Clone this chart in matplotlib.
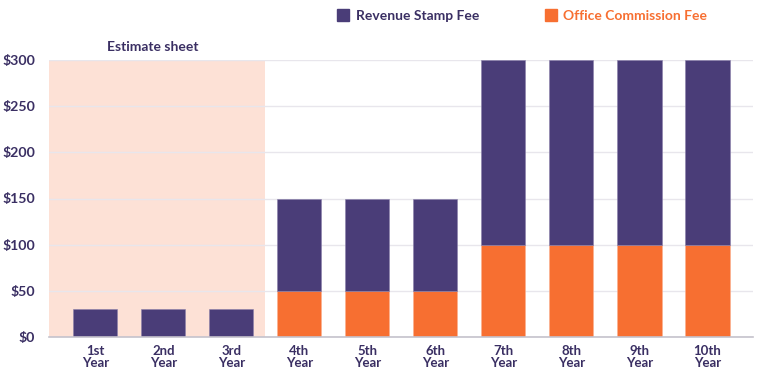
import matplotlib
matplotlib.use("Agg")
import matplotlib.pyplot as plt
from matplotlib.patches import Rectangle

categories = ["1st\nYear", "2nd\nYear", "3rd\nYear", "4th\nYear", "5th\nYear",
              "6th\nYear", "7th\nYear", "8th\nYear", "9th\nYear", "10th\nYear"]
office_fee = [0, 0, 0, 50, 50, 50, 100, 100, 100, 100]
revenue_fee = [30, 30, 30, 100, 100, 100, 200, 200, 200, 200]
y_ticks = [0, 50, 100, 150, 200, 250, 300]
y_labels = ["$0", "$50", "$100", "$150", "$200", "$250", "$300"]

PURPLE = "#4a3d78"
ORANGE = "#f76f31"
SHADE = "#fde1d6"
TEXT = "#3a2f63"

plt.rcParams['font.family'] = ['Lato', 'DejaVu Sans']

fig = plt.figure(figsize=(7.68, 3.79), dpi=100)
ax = fig.add_axes([49/768, 1-337/379, (753-49)/768, (337-60)/379])

x = list(range(len(categories)))
ax.axvspan(-0.68, 2.5, color=SHADE, zorder=0, lw=0)
ax.bar(x, office_fee, width=0.65, color=ORANGE, zorder=3, edgecolor="#fbb08f", linewidth=0.4)
ax.bar(x, revenue_fee, bottom=office_fee, width=0.65, color=PURPLE, zorder=3,
       edgecolor="#8a80aa", linewidth=0.4)

ax.set_xlim(-0.68, 9.67)
ax.set_ylim(0, 300)
ax.set_yticks(y_ticks)
ax.set_yticklabels(y_labels)
ax.set_xticks(x)
ax.set_xticklabels(categories, linespacing=0.95)
ax.grid(axis='y', color="#e8e6ec", linewidth=1, zorder=1)
ax.set_axisbelow(True)
for s in ["top", "right", "left"]:
    ax.spines[s].set_visible(False)
ax.spines["bottom"].set_color("#c5c2cc")
ax.spines["bottom"].set_linewidth(1.2)
ax.spines["bottom"].set_zorder(4)
ax.tick_params(axis='both', length=0, colors=TEXT)
ax.tick_params(axis='y', pad=10, labelsize=10.2)
ax.tick_params(axis='x', pad=6, labelsize=9.5)
for lbl in ax.get_yticklabels() + ax.get_xticklabels():
    lbl.set_fontweight('bold')

ax.text(0.85, 308, "Estimate sheet", ha='center', va='bottom', fontsize=10,
        fontweight='bold', color=TEXT)

# legend
fig.patches.append(Rectangle((337/768, 1-21/379), 12/768, 12/379, transform=fig.transFigure,
                             color=PURPLE, figure=fig))
fig.text(356/768, 1-15.5/379, "Revenue Stamp Fee", ha='left', va='center', fontsize=10,
         fontweight='bold', color=TEXT)
fig.patches.append(Rectangle((545/768, 1-21/379), 12/768, 12/379, transform=fig.transFigure,
                             color=ORANGE, figure=fig))
fig.text(563/768, 1-15.5/379, "Office Commission Fee", ha='left', va='center', fontsize=10,
         fontweight='bold', color=ORANGE)

fig.savefig("out.png", dpi=100)
